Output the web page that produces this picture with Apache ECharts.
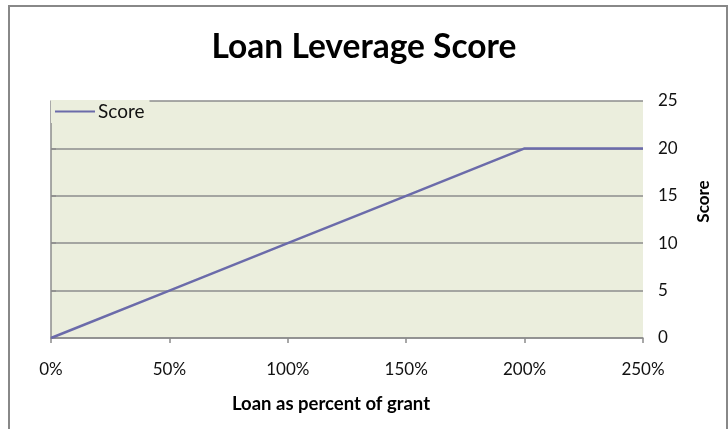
<!DOCTYPE html>
<html>
<head>
<meta charset="utf-8">
<script src="https://cdn.jsdelivr.net/npm/echarts@6/dist/echarts.min.js"></script>
<style>
html,body{margin:0;padding:0;background:#fff;}
#main{width:728px;height:429px;}
</style>
</head>
<body>
<div id="main"></div>
<script>
var titleText = 'Loan Leverage Score';
var seriesName = 'Score';
var xName = 'Loan as percent of grant';
var yName = 'Score';
var loanPercent = [0, 50, 100, 150, 200, 250];
var scores = [0, 5, 10, 15, 20, 20];

var FONT = 'Lato';
var chart = echarts.init(document.getElementById('main'), null, {renderer: 'canvas'});
var option = {
  backgroundColor: '#ffffff',
  animation: false,
  textStyle: {fontFamily: FONT},
  title: {
    text: titleText,
    left: 'center',
    top: 25,
    textStyle: {fontFamily: FONT, fontSize: 33.5, fontWeight: 'bold', color: '#000'}
  },
  graphic: [{
    type: 'rect',
    shape: {x: 9, y: 6, width: 718, height: 440},
    style: {fill: 'none', stroke: '#888888', lineWidth: 2},
    silent: true,
    z: 100
  }],
  legend: {
    left: 51,
    top: 100,
    padding: [2, 5, 2, 4],
    backgroundColor: '#EBEEDD',
    itemWidth: 40,
    itemHeight: 16,
    itemGap: 4,
    icon: 'path://M0,7 L40,7 L40,9 L0,9 Z',
    textStyle: {fontFamily: FONT, fontSize: 19, color: '#111', padding: [0, 0, 0, -2]},
    data: [{name: seriesName}]
  },
  grid: {
    left: 51,
    right: 85,
    top: 101,
    bottom: 91,
    show: true,
    backgroundColor: '#EBEEDD',
    borderWidth: 0
  },
  xAxis: {
    type: 'value',
    min: 0,
    max: 250,
    interval: 50,
    name: xName,
    nameLocation: 'middle',
    nameGap: 57,
    nameTextStyle: {fontFamily: FONT, fontSize: 18.5, fontWeight: 'bold', color: '#000', padding: [0, 32, 0, 0]},
    axisLine: {show: true, lineStyle: {color: '#8c8c8c', width: 1.5}},
    axisTick: {show: true, length: 5, lineStyle: {color: '#8c8c8c', width: 1.5}},
    axisLabel: {margin: 23, fontFamily: FONT, fontSize: 17, color: '#111', formatter: '{value}%'},
    splitLine: {show: false}
  },
  yAxis: {
    type: 'value',
    position: 'right',
    min: 0,
    max: 25,
    interval: 5,
    name: yName,
    nameLocation: 'middle',
    nameGap: 52,
    nameRotate: 90,
    nameTextStyle: {fontFamily: FONT, fontSize: 17, fontWeight: 'bold', color: '#000', padding: [0, 0, 0, 36]},
    axisLine: {show: true, lineStyle: {color: '#8c8c8c', width: 1.5}},
    axisTick: {show: true, inside: false, length: 5, lineStyle: {color: '#8c8c8c', width: 1.5}},
    axisLabel: {margin: 15, fontFamily: FONT, fontSize: 17, color: '#111'},
    splitLine: {show: true, lineStyle: {color: '#8c8c8c', width: 1.5}}
  },
  series: [{
    name: seriesName,
    type: 'line',
    data: loanPercent.map(function (x, i) { return [x, scores[i]]; }),
    showSymbol: false,
    symbol: 'none',
    lineStyle: {color: '#6B6BAA', width: 2.5},
    itemStyle: {color: '#6B6BAA'}
  }]
};
chart.setOption(option);
</script>
</body>
</html>
